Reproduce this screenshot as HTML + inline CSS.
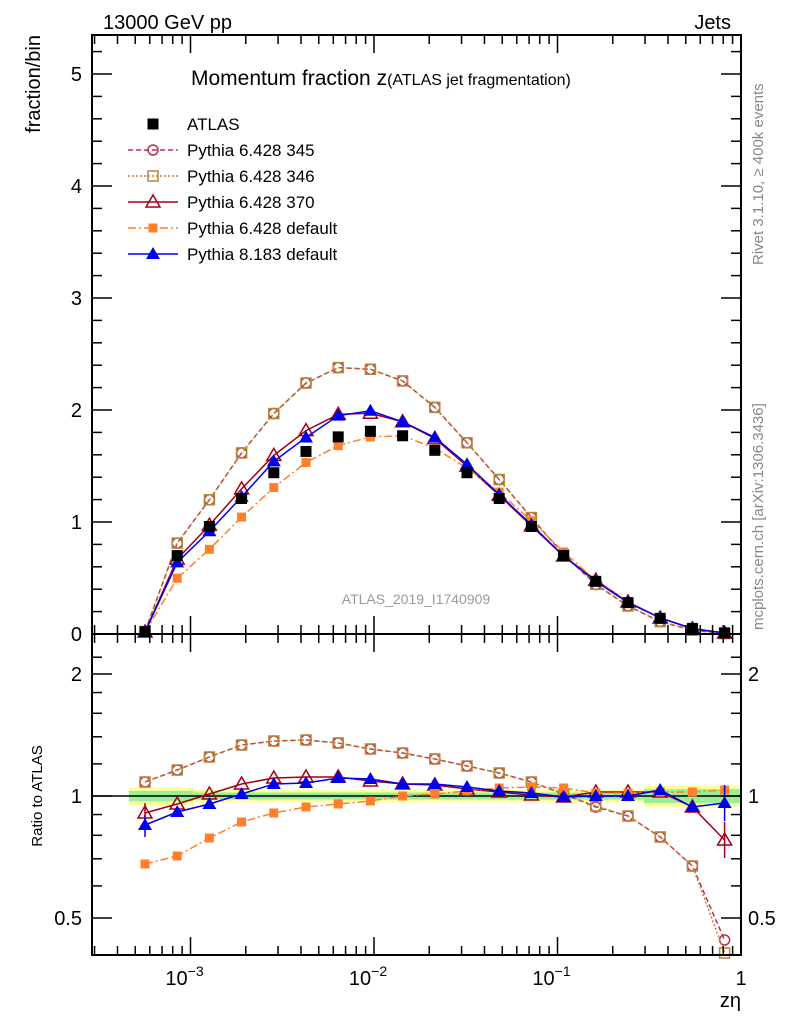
<!DOCTYPE html>
<html><head><meta charset="utf-8"><style>
body{margin:0;background:#fff}
svg{display:block;font-family:"Liberation Sans",sans-serif}
</style></head><body>
<svg id="s" width="786" height="1024" xmlns="http://www.w3.org/2000/svg"></svg>
<script>
const S=document.getElementById('s');
let h='';
const L=92,R=741,T=35,M=634,B=955;
const X=v=>741+183.5*Math.log10(v);
const Ym=v=>634-112*v;
const Yr=r=>796-122*Math.log2(r);
const rOf=y=>Math.pow(2,(796-y)/122);
const xs=[];for(let i=0;i<19;i++)xs.push(145+i*32.2);
const atlas=[0.02,0.70,0.96,1.21,1.44,1.63,1.76,1.81,1.77,1.64,1.44,1.21,0.96,0.70,0.47,0.28,0.14,0.05,0.01];
const ry={
p345:[782,770,757,745,741,740,743,749,753,759,766,773,782,794,807,816,837,866,940],
p346:[782,770,757,745,741,740,743,749,753,759,766,773,782,794,806,816,837,866,953],
p370:[813,804,794,784,778,777,777,781,784,785,789,792,795,797,792,792,792,807,840],
pdef:[864,856,838,822,813,807,804,801,796,794,791,788,787,788,793,793,792,792,790],
p8:[825,812,804,794,784,783,778,779,784,784,787,791,793,797,796,796,790,807,803]};
const sty={
p345:{c:'#c0304a',d:'5,3',m:'circ'},
p346:{c:'#b8863b',d:'2,2',m:'sq'},
p370:{c:'#a00018',d:'',m:'tri'},
pdef:{c:'#ff7f2a',d:'8,3,2,3',m:'fsq'},
p8:{c:'#0000ee',d:'',m:'ftri'}};
function mk(m,x,y,c){
 if(m=='circ')return `<circle cx="${x}" cy="${y}" r="5" fill="none" stroke="${c}" stroke-width="1.5"/>`;
 if(m=='sq')return `<rect x="${x-5}" y="${y-5}" width="10" height="10" fill="none" stroke="${c}" stroke-width="1.5"/>`;
 if(m=='fsq')return `<rect x="${x-4.5}" y="${y-4.5}" width="9" height="9" fill="${c}"/>`;
 if(m=='tri')return `<polygon points="${x},${y-7} ${x-7},${y+5} ${x+7},${y+5}" fill="none" stroke="${c}" stroke-width="1.5"/>`;
 if(m=='ftri')return `<polygon points="${x},${y-7} ${x-7},${y+5} ${x+7},${y+5}" fill="${c}"/>`;
 if(m=='atl')return `<rect x="${x-5.5}" y="${y-5.5}" width="11" height="11" fill="#000"/>`;
}
for(let i=0;i<19;i++){
 const x0=xs[i]-16.1;
 const e=i<2?0.05:(i>15?0.06:0.035), g=i<2?0.03:(i>15?0.04:0.02);
 h+=`<rect x="${x0}" y="${Yr(1+e)}" width="32.2" height="${Yr(1-e)-Yr(1+e)}" fill="#ffff99"/>`;
 h+=`<rect x="${x0}" y="${Yr(1+g)}" width="32.2" height="${Yr(1-g)-Yr(1+g)}" fill="#99ee99"/>`;
}
h+=`<line x1="${L}" y1="796" x2="${R}" y2="796" stroke="#000" stroke-width="1.5"/>`;
const order=['p345','p346','p370','pdef','p8'];
for(const k of order){
 const s=sty[k];
 const pm=xs.map((x,i)=>[x,Ym(atlas[i]*rOf(ry[k][i]))]);
 const pr=xs.map((x,i)=>[x,ry[k][i]]);
 h+=`<polyline points="${pm.map(p=>p.join(',')).join(' ')}" fill="none" stroke="${s.c}" stroke-width="1.5" stroke-dasharray="${s.d}"/>`;
 h+=`<polyline points="${pr.map(p=>p.join(',')).join(' ')}" fill="none" stroke="${s.c}" stroke-width="1.5" stroke-dasharray="${s.d}"/>`;
 if(k=='p370'||k=='p8'){h+=`<line x1="${xs[0]}" y1="${ry[k][0]-10}" x2="${xs[0]}" y2="${ry[k][0]+12}" stroke="${s.c}" stroke-width="1.5"/>`;h+=`<line x1="${xs[18]}" y1="${ry[k][18]-18}" x2="${xs[18]}" y2="${ry[k][18]+18}" stroke="${s.c}" stroke-width="1.5"/>`;}
 pm.forEach(p=>h+=mk(s.m,p[0],p[1],s.c));
 pr.forEach(p=>h+=mk(s.m,p[0],p[1],s.c));
}
xs.forEach((x,i)=>h+=mk('atl',x,Ym(atlas[i])));
h+=`<rect x="${L}" y="${T}" width="${R-L}" height="${B-T}" fill="none" stroke="#000" stroke-width="2"/>`;
h+=`<line x1="${L}" y1="${M}" x2="${R}" y2="${M}" stroke="#000" stroke-width="2"/>`;
for(let e=-4;e<=0;e++)for(let m=1;m<10;m++){
 const v=m*Math.pow(10,e);if(v>1)continue;const x=X(v);if(x<L)continue;
 const l=m==1?18:9;
 for(const [y,d] of [[T,1],[M,-1],[M,1],[B,-1]])h+=`<line x1="${x}" y1="${y}" x2="${x}" y2="${y+d*l}" stroke="#000" stroke-width="1.5"/>`;
}
for(let i=0;i<=26;i++){const v=i*0.2,y=Ym(v);if(y<T)continue;const l=i%5==0?20:10;
 h+=`<line x1="${L}" y1="${y}" x2="${L+l}" y2="${y}" stroke="#000" stroke-width="1.5"/><line x1="${R}" y1="${y}" x2="${R-l}" y2="${y}" stroke="#000" stroke-width="1.5"/>`;}
for(let i=0;i<=5;i++)h+=`<text x="82" y="${Ym(i)+7}" font-size="20" text-anchor="end">${i}</text>`;
[0.5,0.6,0.7,0.8,0.9,1,1.2,1.4,1.6,1.8,2,2.2].forEach(v=>{const y=Yr(v);if(y<M||y>B)return;const l=(v==0.5||v==1||v==2)?20:10;
 h+=`<line x1="${L}" y1="${y}" x2="${L+l}" y2="${y}" stroke="#000" stroke-width="1.5"/><line x1="${R}" y1="${y}" x2="${R-l}" y2="${y}" stroke="#000" stroke-width="1.5"/>`;});
[[2,'2'],[1,'1'],[0.5,'0.5']].forEach(([v,t])=>{const y=Yr(v)+7;h+=`<text x="82" y="${y}" font-size="20" text-anchor="end">${t}</text><text x="748" y="${y}" font-size="20">${t}</text>`;});
[[-3,'10<tspan dy="-9" font-size="14">−3</tspan>'],[-2,'10<tspan dy="-9" font-size="14">−2</tspan>'],[-1,'10<tspan dy="-9" font-size="14">−1</tspan>']].forEach(([e,t])=>h+=`<text x="${X(Math.pow(10,e))-6}" y="985" font-size="20" text-anchor="middle">${t}</text>`);
h+=`<text x="741" y="985" font-size="20" text-anchor="middle">1</text>`;
h+=`<text x="741" y="1007" font-size="20" text-anchor="end">zη</text>`;
h+=`<text x="103" y="29" font-size="20">13000 GeV pp</text><text x="731" y="29" font-size="20" text-anchor="end">Jets</text>`;
h+=`<text transform="translate(40,35) rotate(-90)" font-size="20" text-anchor="end">fraction/bin</text>`;
h+=`<text transform="translate(42,796) rotate(-90)" font-size="15" text-anchor="middle">Ratio to ATLAS</text>`;
h+=`<text x="191" y="85" font-size="21">Momentum fraction z<tspan font-size="16">(ATLAS jet fragmentation)</tspan></text>`;
h+=`<text x="416" y="604" font-size="14" fill="#999" text-anchor="middle">ATLAS_2019_I1740909</text>`;
h+=`<text transform="translate(763,265) rotate(-90)" font-size="15" fill="#888">Rivet 3.1.10, ≥ 400k events</text>`;
h+=`<text transform="translate(763,630) rotate(-90)" font-size="15" fill="#888">mcplots.cern.ch [arXiv:1306.3436]</text>`;
const leg=[['atl','#000','','ATLAS'],['circ','#c0304a','5,3','Pythia 6.428 345'],['sq','#b8863b','2,2','Pythia 6.428 346'],['tri','#a00018','','Pythia 6.428 370'],['fsq','#ff7f2a','8,3,2,3','Pythia 6.428 default'],['ftri','#0000ee','','Pythia 8.183 default']];
leg.forEach((l,i)=>{const y=124+i*26;
 if(i>0)h+=`<line x1="128" y1="${y}" x2="178" y2="${y}" stroke="${l[1]}" stroke-width="1.5" stroke-dasharray="${l[2]}"/>`;
 h+=mk(l[0],153,y,l[1]);
 h+=`<text x="187" y="${y+6}" font-size="17">${l[3]}</text>`;});
S.innerHTML=h;
</script>
</body></html>
